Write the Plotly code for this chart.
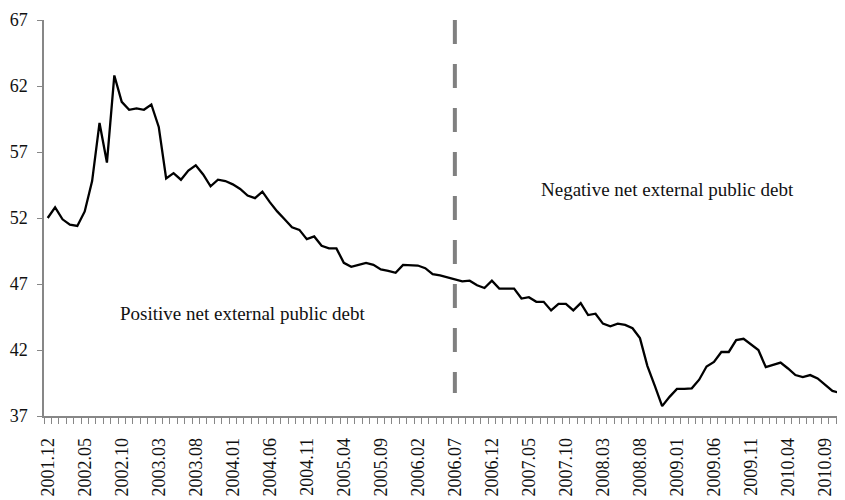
import plotly.graph_objects as go

# Monthly categories 2001.12 .. 2010.12
months = ["2001.12"] + [f"{y}.{m:02d}" for y in range(2002, 2011) for m in range(1, 13)]

values = [
    52.0, 52.8, 51.9, 51.5, 51.4, 52.5, 54.8, 59.2, 56.2, 62.8, 60.8, 60.2, 60.3,
    60.2, 60.6, 58.9, 55.0, 55.4, 54.9, 55.6, 56.0, 55.3, 54.4, 54.9, 54.8,
    54.55, 54.2, 53.7, 53.5, 54.0, 53.2, 52.5, 51.9, 51.3, 51.1, 50.4, 50.6,
    49.9, 49.7, 49.7, 48.6, 48.3, 48.45, 48.6, 48.45, 48.1, 48.0, 47.85, 48.45,
    48.45, 48.4, 48.2, 47.75, 47.65, 47.5, 47.35, 47.2, 47.25, 46.9, 46.7, 47.25,
    46.65, 46.65, 46.65, 45.9, 46.0, 45.65, 45.65, 45.0, 45.5, 45.5, 45.0, 45.55,
    44.65, 44.75, 44.0, 43.8, 44.0, 43.9, 43.65, 42.9, 40.8, 39.3, 37.75, 38.45,
    39.05, 39.05, 39.1, 39.75, 40.75, 41.1, 41.85, 41.85, 42.75, 42.85, 42.45, 42.0,
    40.7, 40.9, 41.05, 40.6, 40.1, 39.95, 40.1, 39.85, 39.4, 38.9, 38.75, 39.2,
]

label_months = months[0:106:5]
split_month = "2006.07"
split_span = [67, 38.75]
y_ticks = [37, 42, 47, 52, 57, 62, 67]
positive_label = "Positive net external public debt"
negative_label = "Negative net external public debt"

idx = list(range(len(months)))
split_idx = months.index(split_month)
label_idx = [months.index(m) for m in label_months]

FONT = "Liberation Serif"
AXIS_GREY = "#878787"

fig = go.Figure()
fig.add_trace(go.Scatter(
    x=idx, y=values, mode="lines",
    line=dict(color="black", width=2.3),
    hoverinfo="skip", showlegend=False,
))
fig.add_trace(go.Scatter(
    x=[split_idx, split_idx], y=split_span, mode="lines",
    line=dict(color="#808080", width=4, dash="24px,20px"),
    hoverinfo="skip", showlegend=False,
))

fig.add_annotation(x=0.2484, y=0.2576, xref="paper", yref="paper",
                   xanchor="center", yanchor="middle",
                   text=positive_label, showarrow=False,
                   font=dict(family=FONT, size=19, color="#111111"))
fig.add_annotation(x=0.7784, y=0.573, xref="paper", yref="paper",
                   xanchor="center", yanchor="middle",
                   text=negative_label, showarrow=False,
                   font=dict(family=FONT, size=19, color="#111111"))

# page body has an 8px default margin: size the figure so the plot area
# lands at x 44..845, y 20..416 in the 845x500 window
fig.update_layout(
    width=837, height=492,
    margin=dict(l=36, r=0, t=12, b=84),
    paper_bgcolor="white", plot_bgcolor="white",
    font=dict(family=FONT, size=18, color="#111111"),
    xaxis=dict(
        range=[-0.5, 107.7], automargin=False,
        tickmode="array", tickvals=label_idx, ticktext=label_months,
        tickangle=-90, ticks="", ticklabelstandoff=13,
        showgrid=False, zeroline=False,
        showline=True, linecolor=AXIS_GREY, linewidth=1.5,
        minor=dict(ticks="outside", tick0=-0.5, dtick=1, ticklen=6,
                   tickcolor=AXIS_GREY, tickwidth=1, showgrid=False),
        tickfont=dict(family=FONT, size=18),
    ),
    yaxis=dict(
        range=[37, 67], automargin=False,
        tickmode="array", tickvals=y_ticks,
        ticks="outside", ticklen=5, tickcolor=AXIS_GREY, tickwidth=1,
        showgrid=False, zeroline=False,
        showline=True, linecolor=AXIS_GREY, linewidth=1.5,
        ticklabelstandoff=6,
        tickfont=dict(family=FONT, size=18),
    ),
)

fig.write_html("out.html")
